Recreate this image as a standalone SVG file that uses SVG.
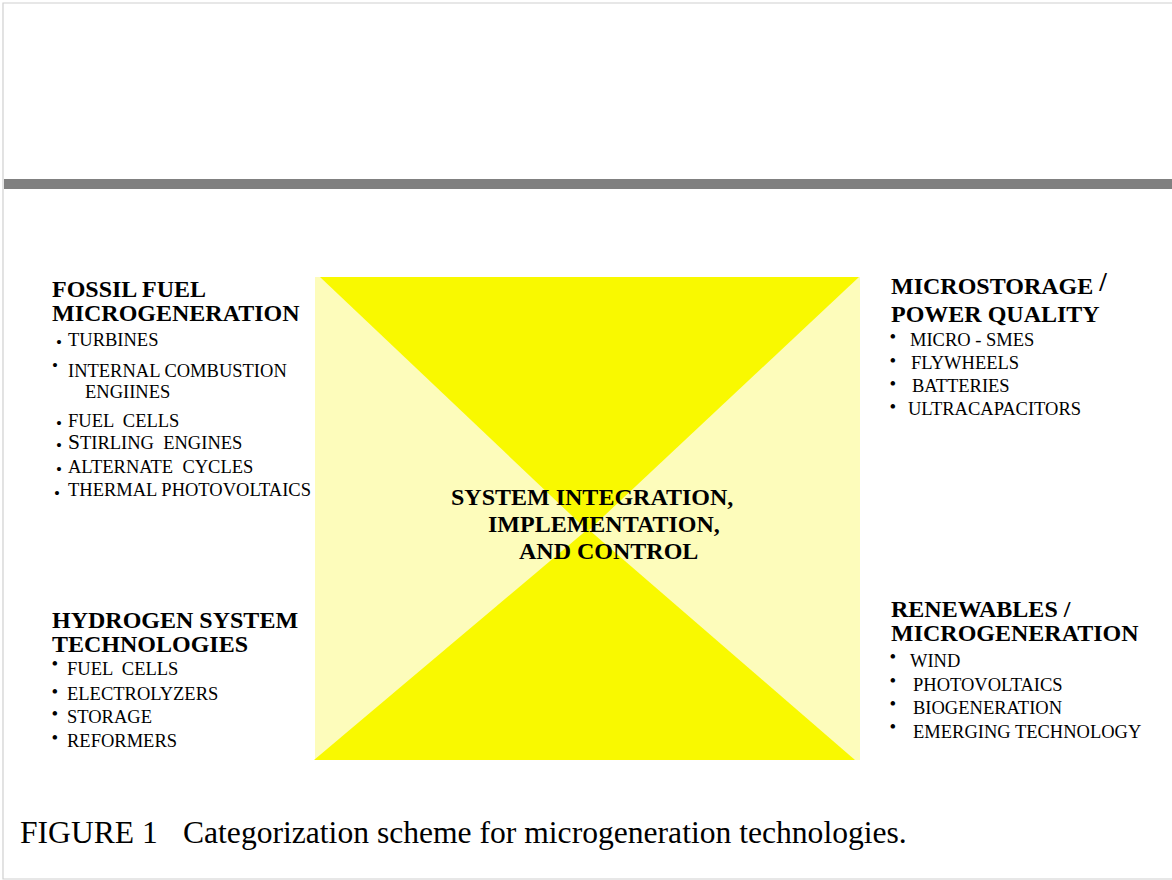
<svg xmlns="http://www.w3.org/2000/svg" width="1172" height="880" viewBox="0 0 1172 880" xml:space="preserve">
<style>
text{font-family:"Liberation Serif","Times New Roman",serif;fill:#000;white-space:pre}
.h{font-size:24px;font-weight:bold}
.i{font-size:18.5px}
.b{font-size:17px}
.br{font-size:19px}
.c{font-size:31.6px}
.frame{stroke:#d0d0d0;stroke-width:1.2;fill:none}
</style>
<rect x="0" y="0" width="1172" height="880" fill="#fff"/>
<path class="frame" d="M1172,3 H3 V879 H1172"/>
<rect x="4" y="179" width="1168" height="10" fill="#808080"/>

<g id="center">
<rect x="315" y="277" width="545" height="483" fill="#FDFCBB"/>
<polygon points="320,277 859,277 588,531" fill="#F9F900"/>
<polygon points="314,760 855,760 588,529" fill="#F9F900"/>
<text class="h" x="451" y="505">SYSTEM INTEGRATION,</text>
<text class="h" x="488" y="532">IMPLEMENTATION,</text>
<text class="h" x="519" y="559">AND CONTROL</text>
</g>

<g id="fossil">
<text class="h" x="52" y="297">FOSSIL FUEL</text>
<text class="h" x="52" y="321">MICROGENERATION</text>
<text class="b" x="56" y="347.5">•</text><text class="i" x="68" y="346">TURBINES</text>
<text class="b" x="52" y="370.5">•</text><text class="i" x="68" y="377">INTERNAL COMBUSTION</text>
<text class="i" x="85" y="398">ENGIINES</text>
<text class="b" x="56" y="428.5">•</text><text class="i" x="68" y="427">FUEL  CELLS</text>
<text class="b" x="56" y="450.5">•</text><text class="i" x="68" y="449"><tspan font-size="21.5">S</tspan>TIRLING  ENGINES</text>
<text class="b" x="56" y="474.5">•</text><text class="i" x="68" y="473">ALTERNATE  CYCLES</text>
<text class="b" x="54" y="498.5">•</text><text class="i" x="68" y="496">THERMAL PHOTOVOLTAICS</text>
</g>

<g id="microstorage">
<text class="h" x="891" y="294">MICROSTORAGE <tspan font-size="27" dy="-3">/</tspan></text>
<text class="h" x="891" y="322">POWER QUALITY</text>
<text class="br" x="889.5" y="343">•</text><text class="i" x="910" y="346">MICRO - SMES</text>
<text class="br" x="889.5" y="367">•</text><text class="i" x="911" y="369">FLYWHEELS</text>
<text class="br" x="889.5" y="390">•</text><text class="i" x="912" y="392">BATTERIES</text>
<text class="br" x="889.5" y="413">•</text><text class="i" x="908" y="415">ULTRACAPACITORS</text>
</g>

<g id="hydrogen">
<text class="h" x="52" y="628">HYDROGEN SYSTEM</text>
<text class="h" x="52" y="652">TECHNOLOGIES</text>
<text class="br" x="51.5" y="670">•</text><text class="i" x="67" y="675">FUEL  CELLS</text>
<text class="br" x="51.5" y="698">•</text><text class="i" x="67" y="700">ELECTROLYZERS</text>
<text class="br" x="51.5" y="720">•</text><text class="i" x="67" y="723">STORAGE</text>
<text class="br" x="51.5" y="744">•</text><text class="i" x="67" y="747">REFORMERS</text>
</g>

<g id="renewables">
<text class="h" x="891" y="617">RENEWABLES /</text>
<text class="h" x="891" y="641">MICROGENERATION</text>
<text class="br" x="889.5" y="663">•</text><text class="i" x="910" y="667">WIND</text>
<text class="br" x="889.5" y="687">•</text><text class="i" x="913" y="691">PHOTOVOLTAICS</text>
<text class="br" x="889.5" y="710">•</text><text class="i" x="913" y="714">BIOGENERATION</text>
<text class="br" x="889.5" y="733">•</text><text class="i" x="913" y="738">EMERGING TECHNOLOGY</text>
</g>

<g id="connectors"/>

<g id="caption">
<text class="c" x="20" y="843">FIGURE 1<tspan x="183">Categorization scheme for microgeneration technologies.</tspan></text>
</g>
</svg>
